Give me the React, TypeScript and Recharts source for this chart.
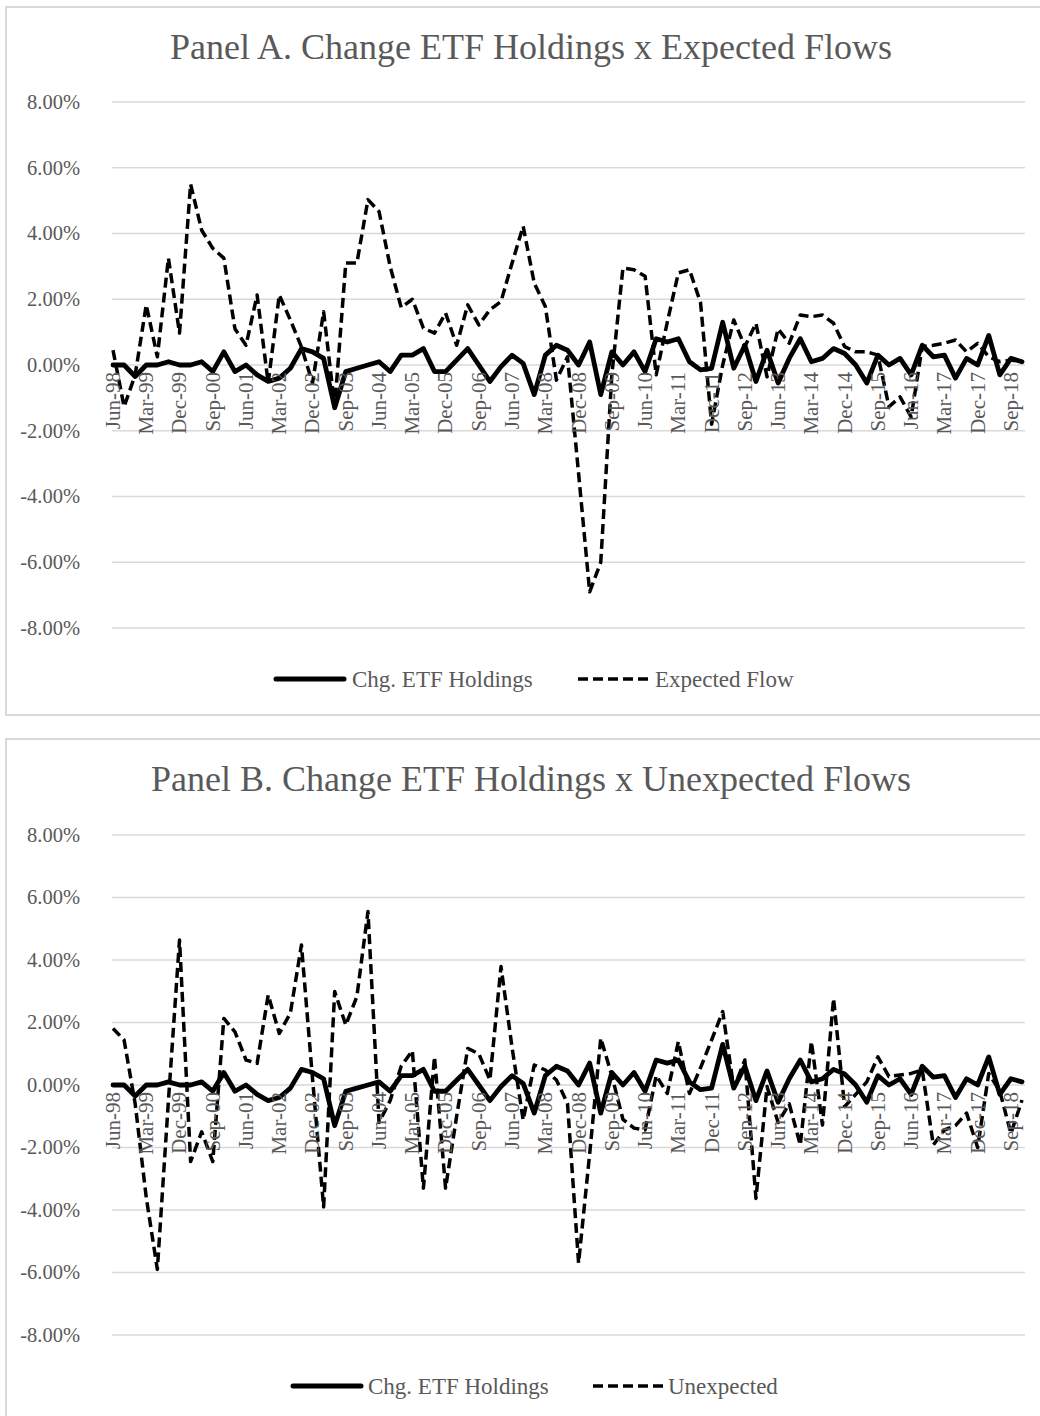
import React from 'react'
import { LineChart, Line, XAxis, YAxis, CartesianGrid } from 'recharts'

// quarterly labels, Jun-98 .. Dec-18
const monthNames = ['Mar', 'Jun', 'Sep', 'Dec']
const quarters: string[] = []
for (let q = 1; q <= 83; q++) {
    const yr = 1998 + Math.floor(q / 4)
    quarters.push(`${monthNames[q % 4]}-${String(yr % 100).padStart(2, '0')}`)
}

// Chg. ETF Holdings (%), same series in both panels
const holdings = [
    0.0, 0.0, -0.35, 0.0, 0.0, 0.1, 0.0, 0.0, 0.1, -0.2,
    0.4, -0.2, 0.0, -0.3, -0.5, -0.4, -0.1, 0.5, 0.4, 0.2,
    -1.3, -0.2, -0.1, 0.0, 0.1, -0.2, 0.3, 0.3, 0.5, -0.2,
    -0.2, 0.15, 0.5, 0.0, -0.5, -0.05, 0.3, 0.05, -0.9, 0.3,
    0.6, 0.45, 0.0, 0.7, -0.9, 0.4, 0.0, 0.4, -0.2, 0.8,
    0.7, 0.8, 0.1, -0.15, -0.1, 1.3, -0.1, 0.6, -0.5, 0.45,
    -0.55, 0.2, 0.8, 0.1, 0.2, 0.5, 0.35, 0.0, -0.55, 0.3,
    0.0, 0.2, -0.3, 0.6, 0.25, 0.3, -0.4, 0.2, 0.0, 0.9,
    -0.3, 0.2, 0.1,
]

// Expected Flow (%)
const expectedFlow = [
    0.45, -1.27, -0.3, 1.83, 0.25, 3.25, 0.97, 5.5, 4.1, 3.55,
    3.25, 1.1, 0.6, 2.13, -0.55, 2.13, 1.37, 0.55, -0.55, 1.62,
    -1.27, 3.1, 3.1, 5.03, 4.67, 3.0, 1.75, 2.0, 1.12, 0.97,
    1.58, 0.6, 1.83, 1.22, 1.68, 1.93, 3.1, 4.22, 2.49, 1.78,
    -0.46, 0.25, -3.3, -6.9, -6.0, -0.3, 2.95, 2.9, 2.7, -0.3,
    1.3, 2.8, 2.9, 1.9, -1.8, 0.0, 1.37, 0.56, 1.27, -0.36,
    1.1, 0.66, 1.52, 1.47, 1.52, 1.27, 0.56, 0.4, 0.4, 0.3,
    -1.27, -0.97, -1.58, 0.56, 0.6, 0.66, 0.76, 0.4, 0.66, 0.25,
    0.1, 0.15, 0.1,
]

// Unexpected flow (%)
const unexpectedFlow = [
    1.81, 1.44, -0.6, -3.6, -5.9, -0.5, 4.64, -2.45, -1.5, -2.45,
    2.13, 1.7, 0.8, 0.69, 2.88, 1.65, 2.3, 4.48, 0.2, -3.9,
    2.99, 1.92, 2.83, 5.55, -1.2, -0.5, 0.6, 1.1, -3.3, 0.9,
    -3.3, -1.0, 1.17, 1.0, 0.16, 3.79, 1.2, -1.12, 0.64, 0.48,
    0.16, -0.59, -5.7, -2.2, 1.5, 0.3, -1.1, -1.38, -1.44, 0.3,
    -0.27, 1.39, -0.27, 0.55, 1.44, 2.35, -0.1, 0.8, -3.63, -0.05,
    -1.2, -0.6, -1.92, 1.39, -1.28, 2.77, -0.69, -0.3, 0.1, 0.9,
    0.27, 0.32, 0.37, 0.48, -1.92, -1.44, -1.3, -0.9, -2.0, 0.37,
    -0.2, -1.55, -0.48,
]

const yTicks = [-8, -6, -4, -2, 0, 2, 4, 6, 8]

const FONT = '"Liberation Serif", "Times New Roman", serif'
const GREY = '#595959'
const GRID = '#d9d9d9'
const W = 1040
const DASH = '10 5'

const dataA = quarters.map((q, i) => ({ q, holdings: holdings[i], flow: expectedFlow[i] }))
const dataB = quarters.map((q, i) => ({ q, holdings: holdings[i], flow: unexpectedFlow[i] }))

function XTick(props: any) {
    const { x, payload, zeroY } = props
    return (
        <text
            x={x}
            y={zeroY + 7}
            transform={`rotate(-90, ${x}, ${zeroY + 7})`}
            textAnchor="end"
            dy="0.33em"
            fill={GREY}
            fontFamily={FONT}
            fontSize={21}
        >
            {payload.value}
        </text>
    )
}

function YTick(props: any) {
    const { y, payload } = props
    return (
        <text x={80} y={y} dy="0.34em" textAnchor="end" fill={GREY} fontFamily={FONT} fontSize={20.5}>
            {payload.value.toFixed(2)}%
        </text>
    )
}

interface PanelProps {
    top: number
    height: number
    frameTop: number
    frameHeight: number
    title: string
    data: any[]
    flowName: string
    plotTop: number
    plotBottom: number
    titleY: number
    legendY: number
    legend: { solidX: number; textX: number; dashX: number; dashTextX: number }
}

function Panel({ top, height, frameTop, frameHeight, title, data, flowName, plotTop, plotBottom, titleY, legendY, legend }: PanelProps) {
    const zeroY = (plotTop + plotBottom) / 2
    return (
        <div style={{ position: 'absolute', left: 0, top, width: W, height }}>
            <div
                style={{
                    position: 'absolute', left: 5, top: frameTop, width: 1100, height: frameHeight,
                    border: `2px solid ${GRID}`, boxSizing: 'border-box',
                }}
            />
            <div style={{ position: 'absolute', left: 0, top: 0 }}>
                <LineChart
                    width={W}
                    height={height}
                    data={data}
                    margin={{ top: plotTop, right: 15, bottom: height - plotBottom - 1, left: 0 }}
                >
                    <CartesianGrid vertical={false} stroke={GRID} strokeWidth={1.5} />
                    <XAxis
                        dataKey="q"
                        height={1}
                        interval={2}
                        axisLine={false}
                        tickLine={false}
                        padding={{ left: 1, right: 3 }}
                        tick={(p: any) => <XTick {...p} zeroY={zeroY} />}
                    />
                    <YAxis
                        width={112}
                        domain={[-8, 8]}
                        ticks={yTicks}
                        axisLine={false}
                        tickLine={false}
                        tick={(p: any) => <YTick {...p} />}
                    />
                    <Line
                        dataKey="holdings"
                        stroke="#000"
                        strokeWidth={4.8}
                        strokeLinejoin="round"
                        strokeLinecap="round"
                        dot={false}
                        isAnimationActive={false}
                    />
                    <Line
                        dataKey="flow"
                        name={flowName}
                        stroke="#000"
                        strokeWidth={3.5}
                        strokeDasharray={DASH}
                        strokeLinejoin="round"
                        dot={false}
                        isAnimationActive={false}
                    />
                </LineChart>
            </div>
            <svg
                width={W}
                height={height}
                style={{ position: 'absolute', left: 0, top: 0, pointerEvents: 'none' }}
            >
                <text x={531} y={titleY} textAnchor="middle" fill={GREY} fontFamily={FONT} fontSize={36}>
                    {title}
                </text>
                <line x1={legend.solidX} x2={legend.solidX + 68} y1={legendY} y2={legendY}
                      stroke="#000" strokeWidth={5} strokeLinecap="round" />
                <text x={legend.textX} y={legendY} dy="0.33em" fill={GREY} fontFamily={FONT} fontSize={23}>
                    Chg. ETF Holdings
                </text>
                <line x1={legend.dashX} x2={legend.dashX + 72} y1={legendY} y2={legendY}
                      stroke="#000" strokeWidth={3.5} strokeDasharray={DASH} />
                <text x={legend.dashTextX} y={legendY} dy="0.33em" fill={GREY} fontFamily={FONT} fontSize={23}>
                    {flowName}
                </text>
            </svg>
        </div>
    )
}

export default function App() {
    return (
        <div style={{ position: 'absolute', left: 0, top: 0, width: W, height: 1416, overflow: 'hidden', background: '#fff' }}>
            <Panel
                top={0}
                height={716}
                frameTop={6}
                frameHeight={710}
                title="Panel A. Change ETF Holdings x Expected Flows"
                data={dataA}
                flowName="Expected Flow"
                plotTop={102}
                plotBottom={628}
                titleY={59}
                legendY={679}
                legend={{ solidX: 276, textX: 352, dashX: 578, dashTextX: 655 }}
            />
            <Panel
                top={738}
                height={678}
                frameTop={0}
                frameHeight={720}
                title="Panel B. Change ETF Holdings x Unexpected Flows"
                data={dataB}
                flowName="Unexpected"
                plotTop={97}
                plotBottom={597}
                titleY={53}
                legendY={648}
                legend={{ solidX: 293, textX: 368, dashX: 593, dashTextX: 668 }}
            />
        </div>
    )
}
